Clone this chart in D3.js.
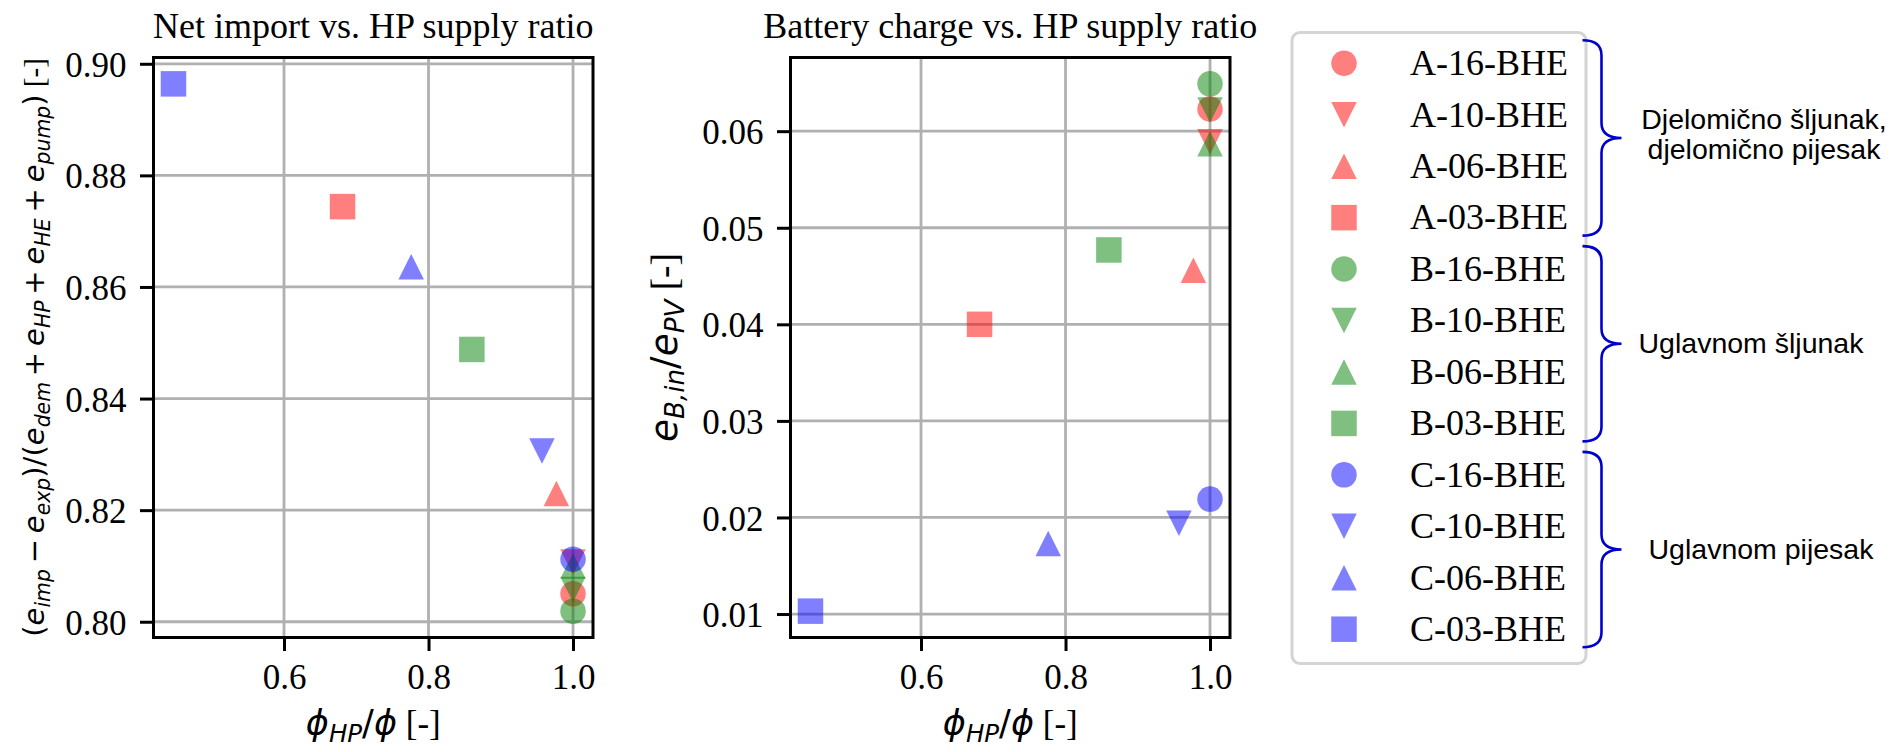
<!DOCTYPE html>
<html>
<head>
<meta charset="utf-8">
<script src="https://cdn.jsdelivr.net/npm/d3@7"></script>
<style>
  body { margin: 0; background: #fff; }
  svg { display: block; }
  text { white-space: pre; }
</style>
</head>
<body>
<svg id="chart" width="1894" height="752"></svg>
<script>
// ---------------- data ----------------
const configs = ["A-16-BHE", "A-10-BHE", "A-06-BHE", "A-03-BHE",
                 "B-16-BHE", "B-10-BHE", "B-06-BHE", "B-03-BHE",
                 "C-16-BHE", "C-10-BHE", "C-06-BHE", "C-03-BHE"];
const seriesColors = ["red", "red", "red", "red",
                      "green", "green", "green", "green",
                      "blue", "blue", "blue", "blue"];
const markerShapes = ["circle", "down", "up", "square",
                      "circle", "down", "up", "square",
                      "circle", "down", "up", "square"];
// phi_HP / phi
const hpSupplyRatio = [1.000, 1.000, 0.977, 0.681,
                       1.000, 1.000, 1.000, 0.860,
                       1.000, 0.957, 0.776, 0.447];
// (e_imp - e_exp)/(e_dem + e_HP + e_HE + e_pump)
const netImport = [0.8050, 0.8107, 0.8230, 0.8744,
                   0.8019, 0.8058, 0.8100, 0.8488,
                   0.8112, 0.8306, 0.8636, 0.8964];
// e_B,in / e_PV
const batteryCharge = [0.0623, 0.0589, 0.0456, 0.0400,
                       0.0649, 0.0622, 0.0587, 0.0477,
                       0.0219, 0.0194, 0.0173, 0.0103];
const xTicks = [0.6, 0.8, 1.0];
const yTicksNet = [0.80, 0.82, 0.84, 0.86, 0.88, 0.90];
const yTicksBattery = [0.01, 0.02, 0.03, 0.04, 0.05, 0.06];
const groupMembers = [[0, 1, 2, 3], [4, 5, 6, 7], [8, 9, 10, 11]];
const groupLabels = [["Djelomično šljunak,", "djelomično pijesak"],
                     ["Uglavnom šljunak"],
                     ["Uglavnom pijesak"]];
const groupLabelCenters = [1764, 1751, 1761];

// ---------------- style ----------------
const SERIF = "'Liberation Serif','Times New Roman',Times,serif";
const MATH = "'DejaVu Sans',sans-serif";
const SANS = "'Liberation Sans',Arial,Helvetica,sans-serif";
const TOP = 57.5, BOTTOM = 637.5;
const MARKER = 25.5;

const svg = d3.select("#chart");
svg.append("rect").attr("width", 1894).attr("height", 752).attr("fill", "#fff");

const shapes = {
  circle: { draw(c, s) { const r = Math.sqrt(s) / 2; c.moveTo(r, 0); c.arc(0, 0, r, 0, 2 * Math.PI); } },
  square: { draw(c, s) { const h = Math.sqrt(s) / 2; c.rect(-h, -h, 2 * h, 2 * h); } },
  up:     { draw(c, s) { const h = Math.sqrt(s) / 2; c.moveTo(0, -h); c.lineTo(h, h); c.lineTo(-h, h); c.closePath(); } },
  down:   { draw(c, s) { const h = Math.sqrt(s) / 2; c.moveTo(0, h); c.lineTo(h, -h); c.lineTo(-h, -h); c.closePath(); } }
};
const symbolPath = i => d3.symbol(shapes[markerShapes[i]], MARKER * MARKER)();

// math-like label builder
function buildMath(textSel, parts, fs) {
  textSel.selectAll("tspan").remove();
  let shifted = false;
  let padNext = false;
  parts.forEach(p => {
    const ts = textSel.append("tspan").text(p.t)
      .style("font-family", p.f === "serif" ? SERIF : MATH)
      .style("font-style", p.i ? "italic" : "normal")
      .style("font-size", (p.sub ? fs * 0.7 : fs) + "px");
    let dy = 0;
    if (p.sub && !shifted) { dy = 0.2 * fs; shifted = true; }
    else if (!p.sub && shifted) { dy = -0.2 * fs; shifted = false; }
    if (dy) ts.attr("dy", dy);
    let dx = 0;
    if (p.op) dx += 0.2 * fs;
    if (padNext) dx += 0.2 * fs;
    if (dx) ts.attr("dx", dx);
    padNext = !!p.op;
  });
}

const xLabelParts = [
  { t: "ϕ", i: true }, { t: "HP", i: true, sub: true }, { t: "/" }, { t: "ϕ", i: true },
  { t: " [-]", f: "serif" }
];
const netLabelParts = [
  { t: "(" }, { t: "e", i: true }, { t: "imp", i: true, sub: true },
  { t: "−", op: true }, { t: "e", i: true }, { t: "exp", i: true, sub: true },
  { t: ")/(" }, { t: "e", i: true }, { t: "dem", i: true, sub: true },
  { t: "+", op: true }, { t: "e", i: true }, { t: "HP", i: true, sub: true },
  { t: "+", op: true }, { t: "e", i: true }, { t: "HE", i: true, sub: true },
  { t: "+", op: true }, { t: "e", i: true }, { t: "pump", i: true, sub: true },
  { t: ")" }, { t: " [-]", f: "serif" }
];
const batLabelParts = [
  { t: "e", i: true }, { t: "B,in", i: true, sub: true }, { t: "/" },
  { t: "e", i: true }, { t: "PV", i: true, sub: true }, { t: " [-]", f: "serif" }
];

const panels = [
  { title: "Net import vs. HP supply ratio", values: netImport, yTicks: yTicksNet,
    left: 153.5, right: 593, ylabel: netLabelParts, ylabelX: 44, ylabelLen: 579 },
  { title: "Battery charge vs. HP supply ratio", values: batteryCharge, yTicks: yTicksBattery,
    left: 790.5, right: 1230, ylabel: batLabelParts, ylabelX: 677, ylabelLen: 189 }
];

const padded = ext => { const r = ext[1] - ext[0]; return [ext[0] - 0.05 * r, ext[1] + 0.05 * r]; };

panels.forEach(P => {
  const x = d3.scaleLinear().domain(padded(d3.extent(hpSupplyRatio))).range([P.left, P.right]);
  const y = d3.scaleLinear().domain(padded(d3.extent(P.values))).range([BOTTOM, TOP]);
  const g = svg.append("g");

  // grid
  g.append("g").selectAll("line").data(xTicks).join("line")
    .attr("x1", d => x(d)).attr("x2", d => x(d)).attr("y1", TOP).attr("y2", BOTTOM)
    .attr("stroke", "#b0b0b0").attr("stroke-width", 2.8);
  g.append("g").selectAll("line").data(P.yTicks).join("line")
    .attr("y1", d => y(d)).attr("y2", d => y(d)).attr("x1", P.left).attr("x2", P.right)
    .attr("stroke", "#b0b0b0").attr("stroke-width", 2.8);

  // markers
  g.append("g").selectAll("path").data(configs).join("path")
    .attr("d", (d, i) => symbolPath(i))
    .attr("transform", (d, i) => `translate(${x(hpSupplyRatio[i])},${y(P.values[i])})`)
    .attr("fill", (d, i) => seriesColors[i]).attr("fill-opacity", 0.5);

  // axes
  const ax = g.append("g").attr("transform", `translate(0,${BOTTOM})`)
    .call(d3.axisBottom(x).tickValues(xTicks).tickFormat(d3.format(".1f")).tickSize(13.5).tickPadding(13.5));
  const ay = g.append("g").attr("transform", `translate(${P.left},0)`)
    .call(d3.axisLeft(y).tickValues(P.yTicks).tickFormat(d3.format(".2f")).tickSize(13.5).tickPadding(13.5));
  [ax, ay].forEach(a => {
    a.attr("font-family", SERIF).attr("font-size", 35);
    a.select(".domain").remove();
    a.selectAll(".tick line").attr("stroke", "#000").attr("stroke-width", 3);
    a.selectAll(".tick text").style("font-family", SERIF).style("font-size", "35px").attr("fill", "#000");
  });
  ay.selectAll(".tick text").attr("dy", "0.36em");

  // spines
  g.append("rect").attr("x", P.left).attr("y", TOP)
    .attr("width", P.right - P.left).attr("height", BOTTOM - TOP)
    .attr("fill", "none").attr("stroke", "#000").attr("stroke-width", 3);

  // title
  g.append("text").attr("x", (P.left + P.right) / 2).attr("y", 38.3)
    .attr("text-anchor", "middle").style("font-family", SERIF).style("font-size", "36px")
    .attr("fill", "#000").text(P.title);

  // x label
  const xl = g.append("text").attr("x", (P.left + P.right) / 2).attr("y", 735)
    .attr("text-anchor", "middle").attr("fill", "#000");
  buildMath(xl, xLabelParts, 35);

  // y label (fit to reference length)
  const yg = g.append("g").attr("transform", `translate(${P.ylabelX},${(TOP + BOTTOM) / 2}) rotate(-90)`);
  const yl = yg.append("text").attr("text-anchor", "middle").attr("fill", "#000");
  buildMath(yl, P.ylabel, 35);
  const w = yl.node().getBBox().width;
  buildMath(yl, P.ylabel, 35 * P.ylabelLen / w);
});

// ---------------- legend ----------------
const rowY = d3.scaleLinear().domain([0, configs.length - 1]).range([63.3, 629.2]);
const lg = svg.append("g");
lg.append("rect").attr("x", 1292).attr("y", 32.5).attr("width", 294).attr("height", 631)
  .attr("rx", 8).attr("fill", "#fff").attr("stroke", "#d4d4d4").attr("stroke-width", 3);
const rows = lg.selectAll("g.row").data(configs).join("g").attr("class", "row")
  .attr("transform", (d, i) => `translate(0,${rowY(i)})`);
rows.append("path").attr("d", (d, i) => symbolPath(i))
  .attr("transform", "translate(1344,0)")
  .attr("fill", (d, i) => seriesColors[i]).attr("fill-opacity", 0.5);
rows.append("text").attr("x", 1410).attr("y", 11.8)
  .style("font-family", SERIF).style("font-size", "36px").attr("fill", "#000").text(d => d);

// ---------------- braces ----------------
function bracePath(xL, y0, y1) {
  const xm = xL + 19, xt = xL + 39, ym = (y0 + y1) / 2, c = 15;
  return `M${xL},${y0} C${xL + 13},${y0} ${xm},${y0 + 5} ${xm},${y0 + c}` +
    ` L${xm},${ym - c} C${xm},${ym - 5} ${xm + 7},${ym} ${xt},${ym}` +
    ` C${xm + 7},${ym} ${xm},${ym + 5} ${xm},${ym + c}` +
    ` L${xm},${y1 - c} C${xm},${y1 - 5} ${xL + 13},${y1} ${xL},${y1}`;
}
groupMembers.forEach((m, gi) => {
  const y0 = rowY(m[0]) - 23, y1 = rowY(m[m.length - 1]) + 18, ym = (y0 + y1) / 2;
  svg.append("path").attr("d", bracePath(1582.5, y0, y1))
    .attr("fill", "none").attr("stroke", "#0000cc").attr("stroke-width", 2.6);
  const lines = groupLabels[gi];
  const t = svg.append("text").attr("text-anchor", "middle").style("font-family", SANS)
    .style("font-size", "28.5px").attr("fill", "#000");
  const first = lines.length === 1 ? ym + 9.5 : ym - 8.5;
  lines.forEach((l, li) => {
    t.append("tspan").attr("x", groupLabelCenters[gi]).attr("y", first + li * 30).text(l);
  });
});
</script>
</body>
</html>
